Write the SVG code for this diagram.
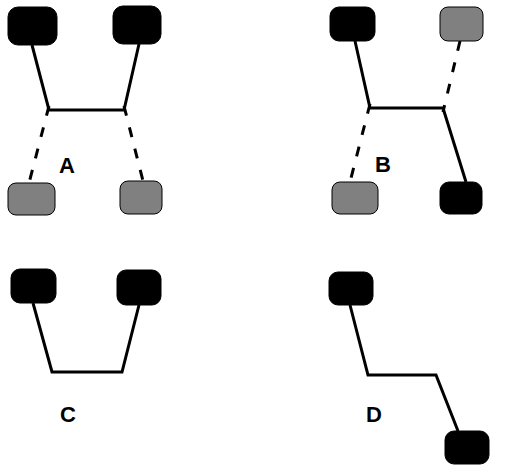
<svg xmlns="http://www.w3.org/2000/svg" width="506" height="468" viewBox="0 0 506 468">
<style>
.blk{fill:#000;stroke:#000;stroke-width:1}
.gry{fill:#808080;stroke:#000;stroke-width:1}
.ln{stroke:#000;stroke-width:3;fill:none;stroke-linecap:butt;stroke-linejoin:miter}
.ds{stroke:#000;stroke-width:3;fill:none;stroke-dasharray:10 12}
.lbl{font-family:"Liberation Sans",Arial,sans-serif;font-weight:bold;font-size:22px;fill:#000}
</style>
<rect width="506" height="468" fill="#fff"/>
<g id="connectors">
<polyline class="ln" points="32,45 49,110 124,110 139,44"/>
<line class="ds" x1="49" y1="106" x2="29" y2="183"/>
<line class="ds" x1="124" y1="106" x2="143" y2="181"/>
<polyline class="ln" points="355,41 370,108 443,108 466,182"/>
<line class="ds" x1="460" y1="41" x2="443" y2="112"/>
<line class="ds" x1="370" y1="104" x2="350" y2="182"/>
<polyline class="ln" points="33,303 52,372 122,372 139,305"/>
<polyline class="ln" points="350,305 368,375 436,375 458,431"/>
</g>
<g id="A-top-left"><rect class="blk" x="8" y="7" width="49" height="38" rx="10"/></g>
<g id="A-top-right"><rect class="blk" x="113" y="6" width="48" height="38" rx="10"/></g>
<g id="A-bottom-left"><rect class="gry" x="8" y="183" width="47" height="32" rx="8"/></g>
<g id="A-bottom-right"><rect class="gry" x="120" y="181" width="42" height="33" rx="8"/></g>
<g id="B-top-left"><rect class="blk" x="330" y="7" width="45" height="34" rx="9"/></g>
<g id="B-top-right"><rect class="gry" x="440" y="7" width="43" height="34" rx="8"/></g>
<g id="B-bottom-left"><rect class="gry" x="332" y="182" width="46" height="32" rx="8"/></g>
<g id="B-bottom-right"><rect class="blk" x="440" y="182" width="42" height="32" rx="9"/></g>
<g id="C-left"><rect class="blk" x="11" y="269" width="45" height="34" rx="9"/></g>
<g id="C-right"><rect class="blk" x="117" y="270" width="44" height="35" rx="9"/></g>
<g id="D-top"><rect class="blk" x="329" y="272" width="44" height="33" rx="9"/></g>
<g id="D-bottom"><rect class="blk" x="445" y="431" width="44" height="33" rx="9"/></g>
<g id="labels">
<text class="lbl" x="59" y="173">A</text>
<text class="lbl" x="375" y="172">B</text>
<text class="lbl" x="60" y="422">C</text>
<text class="lbl" x="366" y="422">D</text>
</g>
</svg>
